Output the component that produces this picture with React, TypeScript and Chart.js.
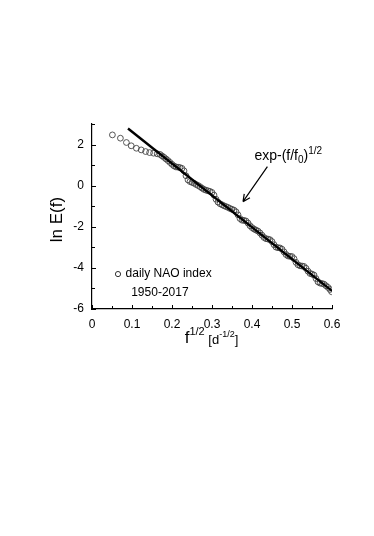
import React, { useEffect, useRef } from "react";
import { Chart, registerables } from "chart.js";

Chart.register(...registerables);

// Observed spectrum (daily NAO index 1950-2017), x = f^1/2, y = ln E(f)
const sqrtF: number[] = [
  0.051, 0.071, 0.086, 0.098, 0.111, 0.123, 0.134, 0.144, 0.154, 0.163,
  0.170, 0.175, 0.180, 0.185, 0.190, 0.195, 0.200, 0.205, 0.210, 0.215,
  0.220, 0.225, 0.230, 0.235, 0.240, 0.245, 0.250, 0.255, 0.260, 0.265,
  0.270, 0.275, 0.280, 0.285, 0.290, 0.295, 0.300, 0.305, 0.310, 0.315,
  0.320, 0.325, 0.330, 0.335, 0.340, 0.345, 0.350, 0.355, 0.360, 0.365,
  0.370, 0.375, 0.380, 0.385, 0.390, 0.395, 0.400, 0.405, 0.410, 0.415,
  0.420, 0.425, 0.430, 0.435, 0.440, 0.445, 0.450, 0.455, 0.460, 0.465,
  0.470, 0.475, 0.480, 0.485, 0.490, 0.495, 0.500, 0.505, 0.510, 0.515,
  0.520, 0.525, 0.530, 0.535, 0.540, 0.545, 0.550, 0.555, 0.560, 0.565,
  0.570, 0.575, 0.580, 0.585, 0.590, 0.595, 0.599,
];
const lnE: number[] = [
  2.47, 2.31, 2.1, 1.94, 1.82, 1.74, 1.66, 1.61, 1.58, 1.55,
  1.52, 1.45, 1.38, 1.30, 1.22, 1.13, 1.04, 0.96, 0.91, 0.90,
  0.88, 0.84, 0.72, 0.48, 0.28, 0.20, 0.16, 0.12, 0.06, 0.01,
  -0.05, -0.12, -0.18, -0.22, -0.25, -0.28, -0.33, -0.46, -0.66, -0.80,
  -0.88, -0.93, -0.98, -1.02, -1.06, -1.11, -1.15, -1.19, -1.27, -1.42,
  -1.60, -1.68, -1.69, -1.72, -1.82, -1.95, -2.04, -2.11, -2.16, -2.21,
  -2.30, -2.41, -2.52, -2.58, -2.60, -2.63, -2.72, -2.87, -2.99, -3.02,
  -3.03, -3.09, -3.22, -3.35, -3.42, -3.44, -3.45, -3.55, -3.73, -3.85,
  -3.90, -3.91, -3.93, -4.02, -4.16, -4.27, -4.30, -4.35, -4.52, -4.68,
  -4.74, -4.76, -4.79, -4.87, -4.95, -5.05, -5.16,
];
// Fitted stretched exponential line
const fitX: number[] = [0.09, 0.6];
const fitY: number[] = [2.78, -5.12];

const xMajorTicks: number[] = [0, 0.1, 0.2, 0.3, 0.4, 0.5, 0.6];
const xMinorTicks: number[] = [0.05, 0.15, 0.25, 0.35, 0.45, 0.55];
const yMajorTicks: number[] = [-6, -4, -2, 0, 2];
const yMinorTicks: number[] = [-5, -3, -1, 1, 3];

const legendLines: string[] = ["daily NAO index", "1950-2017"];

const FONT = "'Liberation Sans', Arial, sans-serif";

const overlay = {
  id: "overlay",
  afterDraw(chart: any) {
    const ctx = chart.ctx as CanvasRenderingContext2D;
    const xs = chart.scales.x;
    const ys = chart.scales.y;
    const X = (v: number) => xs.getPixelForValue(v);
    const Y = (v: number) => ys.getPixelForValue(v);
    const x0 = X(0);
    const y0 = Y(-6);
    ctx.save();
    ctx.strokeStyle = "#000";
    ctx.lineWidth = 1;
    // inward ticks
    ctx.beginPath();
    xMajorTicks.forEach((t) => {
      const px = Math.round(X(t)) + 0.5;
      ctx.moveTo(px, y0);
      ctx.lineTo(px, y0 - 4);
    });
    xMinorTicks.forEach((t) => {
      const px = Math.round(X(t)) + 0.5;
      ctx.moveTo(px, y0);
      ctx.lineTo(px, y0 - 3);
    });
    yMajorTicks.forEach((t) => {
      const py = Math.round(Y(t)) + 0.5;
      ctx.moveTo(x0, py);
      ctx.lineTo(x0 + 4, py);
    });
    yMinorTicks.forEach((t) => {
      const py = Math.round(Y(t)) + 0.5;
      ctx.moveTo(x0, py);
      ctx.lineTo(x0 + 3, py);
    });
    ctx.stroke();

    ctx.fillStyle = "#000";
    // legend
    ctx.beginPath();
    ctx.lineWidth = 1;
    ctx.strokeStyle = "#333";
    ctx.arc(X(0.065), Y(-4.3), 2.6, 0, Math.PI * 2);
    ctx.stroke();
    ctx.font = `12px ${FONT}`;
    ctx.textBaseline = "middle";
    ctx.textAlign = "left";
    ctx.fillText(legendLines[0], X(0.084), Y(-4.3));
    ctx.fillText(legendLines[1], X(0.098), Y(-5.22));

    // annotation text exp-(f/f0)^1/2
    ctx.textBaseline = "alphabetic";
    let ax = X(0.406);
    const ay = Y(1.25);
    ctx.font = `14px ${FONT}`;
    const seg1 = "exp-(f/f";
    ctx.fillText(seg1, ax, ay);
    ax += ctx.measureText(seg1).width;
    ctx.font = `10px ${FONT}`;
    ctx.fillText("0", ax, ay + 3);
    ax += ctx.measureText("0").width;
    ctx.font = `14px ${FONT}`;
    ctx.fillText(")", ax, ay);
    ax += ctx.measureText(")").width;
    ctx.font = `10px ${FONT}`;
    ctx.fillText("1/2", ax, ay - 6);

    // arrow
    const sx = X(0.4385), sy = Y(0.93);
    const ex = X(0.3775), ey = Y(-0.78);
    ctx.strokeStyle = "#000";
    ctx.lineWidth = 1.2;
    ctx.beginPath();
    ctx.moveTo(sx, sy);
    ctx.lineTo(ex, ey);
    const ang = Math.atan2(ey - sy, ex - sx);
    const hl = 8;
    ctx.moveTo(ex, ey);
    ctx.lineTo(ex - hl * Math.cos(ang - 0.45), ey - hl * Math.sin(ang - 0.45));
    ctx.moveTo(ex, ey);
    ctx.lineTo(ex - hl * Math.cos(ang + 0.45), ey - hl * Math.sin(ang + 0.45));
    ctx.stroke();

    // y axis title
    ctx.save();
    ctx.translate(57, (Y(3) + y0) / 2 + 3);
    ctx.rotate(-Math.PI / 2);
    ctx.font = `17px ${FONT}`;
    ctx.textAlign = "center";
    ctx.textBaseline = "middle";
    ctx.fillText("ln E(f)", 0, 0);
    ctx.restore();

    // x axis title f^1/2 [d^-1/2]
    ctx.textAlign = "left";
    ctx.textBaseline = "alphabetic";
    const parts: [string, number, number][] = [
      ["f", 17, 0],
      ["1/2", 11, -8],
      [" [d", 13, 1],
      ["-1/2", 9, -6],
      ["]", 13, 1],
    ];
    let total = 0;
    parts.forEach(([t, s]) => {
      ctx.font = `${s}px ${FONT}`;
      total += ctx.measureText(t).width;
    });
    let tx = 211.5 - total / 2;
    const tb = 343;
    parts.forEach(([t, s, dy]) => {
      ctx.font = `${s}px ${FONT}`;
      ctx.fillText(t, tx, tb + dy);
      tx += ctx.measureText(t).width;
    });
    ctx.restore();
  },
};

export default function App() {
  const ref = useRef<HTMLCanvasElement | null>(null);
  useEffect(() => {
    if (!ref.current) return;
    const chart = new Chart(ref.current, {
      type: "scatter",
      data: {
        datasets: [
          {
            type: "line",
            label: "fit",
            data: fitX.map((x, i) => ({ x, y: fitY[i] })),
            borderColor: "#000",
            borderWidth: 2.4,
            pointRadius: 0,
            fill: false,
            order: 0,
          },
          {
            type: "scatter",
            label: "daily NAO index",
            data: sqrtF.map((x, i) => ({ x, y: lnE[i] })),
            borderColor: "#444",
            backgroundColor: "rgba(255,255,255,0)",
            borderWidth: 0.9,
            pointRadius: 2.9,
            order: 1,
          },
        ],
      },
      options: {
        responsive: false,
        animation: false,
        events: [],
        layout: { padding: { left: 52, right: 42, top: 124, bottom: 177 } },
        plugins: { legend: { display: false }, tooltip: { enabled: false } },
        scales: {
          x: {
            type: "linear",
            min: 0,
            max: 0.6,
            afterFit: (s: any) => {
              s.height = 50;
            },
            afterBuildTicks: (s: any) => {
              s.ticks = xMajorTicks.map((v) => ({ value: v }));
            },
            grid: { display: false, drawTicks: false },
            border: { display: true, color: "#000", width: 1.2 },
            ticks: {
              padding: 8,
              color: "#000",
              font: { family: FONT, size: 12 },
              maxRotation: 0,
              autoSkip: false,
              callback: (v: any) => (Number(v) === 0 ? "0" : Number(v).toFixed(1)),
            },
          },
          y: {
            type: "linear",
            min: -6,
            max: 3,
            afterFit: (s: any) => {
              s.width = 40;
            },
            afterBuildTicks: (s: any) => {
              s.ticks = yMajorTicks.map((v) => ({ value: v }));
            },
            grid: { display: false, drawTicks: false },
            border: { display: true, color: "#000", width: 1.2 },
            ticks: {
              padding: 8,
              color: "#000",
              font: { family: FONT, size: 12 },
              autoSkip: false,
              callback: (v: any) => String(v),
            },
          },
        },
      },
      plugins: [overlay],
    });
    return () => chart.destroy();
  }, []);
  return (
    <div style={{ position: "absolute", left: 0, top: 0, width: 374, height: 536, background: "#fff" }}>
      <canvas ref={ref} width={374} height={536} style={{ display: "block" }} />
    </div>
  );
}
